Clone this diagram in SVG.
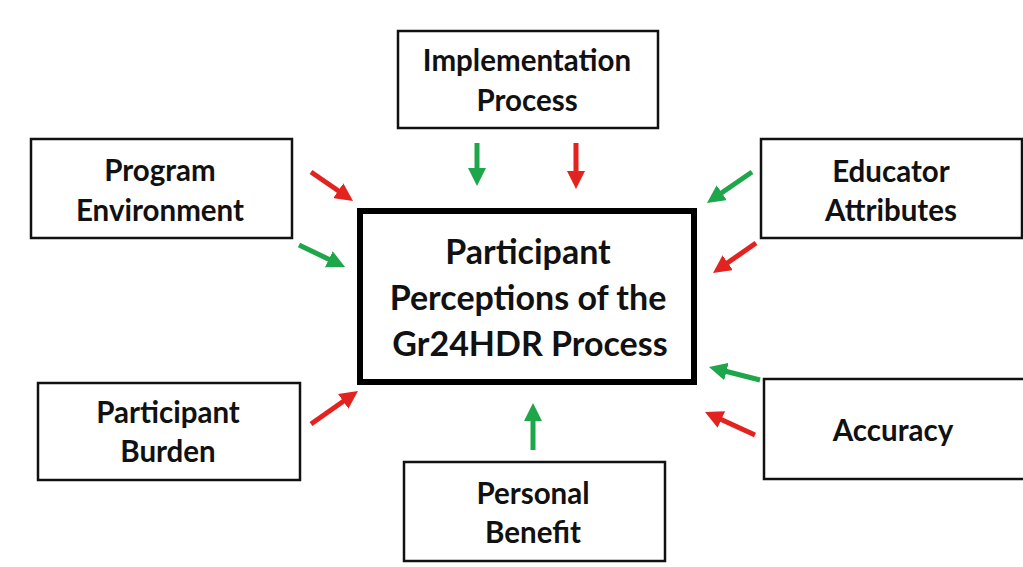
<svg xmlns="http://www.w3.org/2000/svg" width="1023" height="567" viewBox="0 0 1023 567">
<style>
.box{fill:#fff;stroke:#111;stroke-width:2.5}
.main{fill:#fff;stroke:#000;stroke-width:6}
.t{font-family:Lato,"Open Sans",sans-serif;font-weight:700;font-size:29.5px;fill:#111;text-anchor:middle}
.tm{font-family:Lato,"Open Sans",sans-serif;font-weight:700;font-size:34px;fill:#111;text-anchor:middle}
.r{stroke:#e3231f;stroke-width:5;fill:none;marker-end:url(#hr)}
.g{stroke:#1ea64a;stroke-width:5;fill:none;marker-end:url(#hg)}
</style>
<defs>
<marker id="hr" viewBox="0 0 10 10" refX="4.44" refY="5" markerWidth="3.6" markerHeight="3.6" orient="auto" markerUnits="strokeWidth"><path d="M0,0 L10,5 L0,10 z" fill="#e3231f"/></marker>
<marker id="hg" viewBox="0 0 10 10" refX="4.44" refY="5" markerWidth="3.6" markerHeight="3.6" orient="auto" markerUnits="strokeWidth"><path d="M0,0 L10,5 L0,10 z" fill="#1ea64a"/></marker>
</defs>
<rect width="1023" height="567" fill="#fff"/>
<g id="center">
<rect class="main" x="360" y="211" width="334" height="171"/>
<text class="tm" x="528" y="264">Participant</text>
<text class="tm" x="528" y="310">Perceptions of the</text>
<text class="tm" x="530" y="356">Gr24HDR Process</text>
</g>
<g id="implementation">
<rect class="box" x="398" y="31" width="260" height="97"/>
<text class="t" x="527" y="71">Implementation</text>
<text class="t" x="527" y="111">Process</text>
</g>
<g id="program">
<rect class="box" x="31" y="139" width="261" height="99"/>
<text class="t" x="160" y="181">Program</text>
<text class="t" x="160" y="221">Environment</text>
</g>
<g id="educator">
<rect class="box" x="761" y="139" width="261" height="99"/>
<text class="t" x="891" y="182">Educator</text>
<text class="t" x="891" y="221">Attributes</text>
</g>
<g id="burden">
<rect class="box" x="38" y="383" width="262" height="97"/>
<text class="t" x="168" y="423">Participant</text>
<text class="t" x="168" y="462">Burden</text>
</g>
<g id="accuracy">
<rect class="box" x="764" y="379" width="262" height="100"/>
<text class="t" x="893" y="441">Accuracy</text>
</g>
<g id="benefit">
<rect class="box" x="404" y="462" width="261" height="99"/>
<text class="t" x="533" y="504">Personal</text>
<text class="t" x="533" y="543">Benefit</text>
</g>
<g id="connectors">
<line class="r" x1="311" y1="172" x2="344.8" y2="195.3"/>
<line class="g" x1="299" y1="245" x2="336" y2="262.7"/>
<line class="g" x1="477" y1="143" x2="477" y2="176"/>
<line class="r" x1="576" y1="143" x2="576" y2="179"/>
<line class="g" x1="752" y1="172" x2="715.2" y2="197.3"/>
<line class="r" x1="756" y1="243" x2="721.2" y2="267.3"/>
<line class="g" x1="760" y1="380" x2="718.7" y2="369.5"/>
<line class="r" x1="755" y1="435" x2="714.1" y2="416.2"/>
<line class="r" x1="311" y1="424" x2="349.8" y2="396.8"/>
<line class="g" x1="533" y1="450" x2="533" y2="413"/>
</g>
</svg>
